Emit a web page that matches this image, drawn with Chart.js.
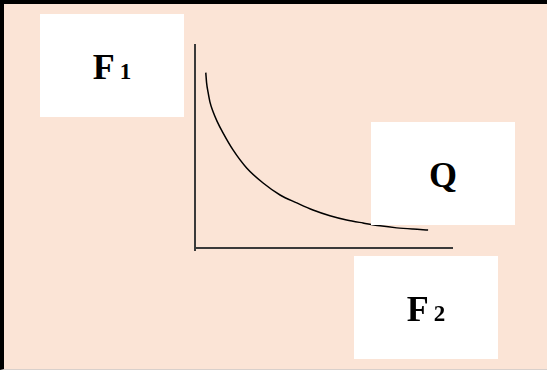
<!DOCTYPE html>
<html>
<head>
<meta charset="utf-8">
<script src="https://cdn.jsdelivr.net/npm/chart.js@4/dist/chart.umd.min.js"></script>
<style>
  html, body { margin: 0; padding: 0; background: #ffffff; }
  #frame {
    position: absolute; left: 0; top: 0; width: 547px; height: 370px;
    box-sizing: border-box; background: #FBE4D6;
    border-top: 4px solid #000; border-left: 4px solid #000;
    border-bottom: 1px solid #d8d0cc;
  }
  #chart { position: absolute; left: 0; top: 0; }
  .lbl {
    position: absolute; background: #ffffff;
    font-family: "Liberation Serif", "Times New Roman", serif; font-weight: bold;
    color: #000; box-sizing: border-box; text-align: center;
  }
  .lbl .txt { position: absolute; left: 0; right: 0; line-height: 36px; white-space: nowrap; }
  .lbl .main { font-size: 36px; }
  .lbl .sub { font-size: 23px; margin-left: 5px; }
</style>
</head>
<body>
<div id="frame"></div>
<canvas id="chart" width="547" height="371"></canvas>
<script>
// Isoquant curve (x = F2 quantity, y = F1 quantity)
const curveX = [0.42, 0.45, 0.51, 0.58, 0.70, 0.86, 1.09, 1.48, 2.01, 2.65, 3.31, 3.96, 4.59, 5.25, 5.90, 6.54, 7.20, 7.85, 8.48, 9.07];
const curveY = [8.64, 8.15, 7.66, 7.20, 6.72, 6.24, 5.67, 4.83, 3.94, 3.20, 2.61, 2.22, 1.87, 1.59, 1.38, 1.23, 1.09, 0.99, 0.93, 0.89];

// Labels: [main letter, subscript]
const axisLabelY = ["F", "1"];
const axisLabelX = ["F", "2"];
const curveLabel = ["Q", ""];

function makeLabel(parts, left, top, w, h) {
  const d = document.createElement('div');
  d.className = 'lbl';
  d.style.left = left + 'px'; d.style.top = top + 'px';
  d.style.width = w + 'px'; d.style.height = h + 'px';
  const t = document.createElement('div'); t.className = 'txt';
  t.style.top = (h / 2 - 17) + 'px';
  const m = document.createElement('span'); m.className = 'main'; m.textContent = parts[0];
  t.appendChild(m);
  if (parts[1]) {
    const s = document.createElement('span'); s.className = 'sub'; s.textContent = parts[1];
    t.appendChild(s);
  }
  d.appendChild(t);
  document.body.appendChild(d);
}

const points = curveX.map((x, i) => ({ x: x, y: curveY[i] }));

new Chart(document.getElementById('chart'), {
  type: 'scatter',
  data: {
    datasets: [{
      data: points,
      showLine: true,
      borderColor: '#000000',
      borderWidth: 1.5,
      pointRadius: 0,
      cubicInterpolationMode: 'monotone',
      fill: false
    }]
  },
  options: {
    responsive: false,
    animation: false,
    layout: { padding: { left: 195, right: 95, top: 45, bottom: 121 } },
    plugins: { legend: { display: false }, tooltip: { enabled: false } },
    scales: {
      x: {
        type: 'linear', min: 0, max: 10,
        position: { y: 0 },
        grid: { display: false, drawTicks: false },
        border: { display: true, color: '#3a3a3a', width: 2 },
        ticks: { display: false }
      },
      y: {
        type: 'linear', min: -0.1, max: 10,
        grid: { display: false, drawTicks: false },
        border: { display: true, color: '#3a3a3a', width: 2 },
        ticks: { display: false }
      }
    }
  }
});

makeLabel(axisLabelY, 40, 14, 144, 103);
makeLabel(curveLabel, 371, 122, 144, 103);
makeLabel(axisLabelX, 354, 256, 144, 103);
</script>
</body>
</html>
